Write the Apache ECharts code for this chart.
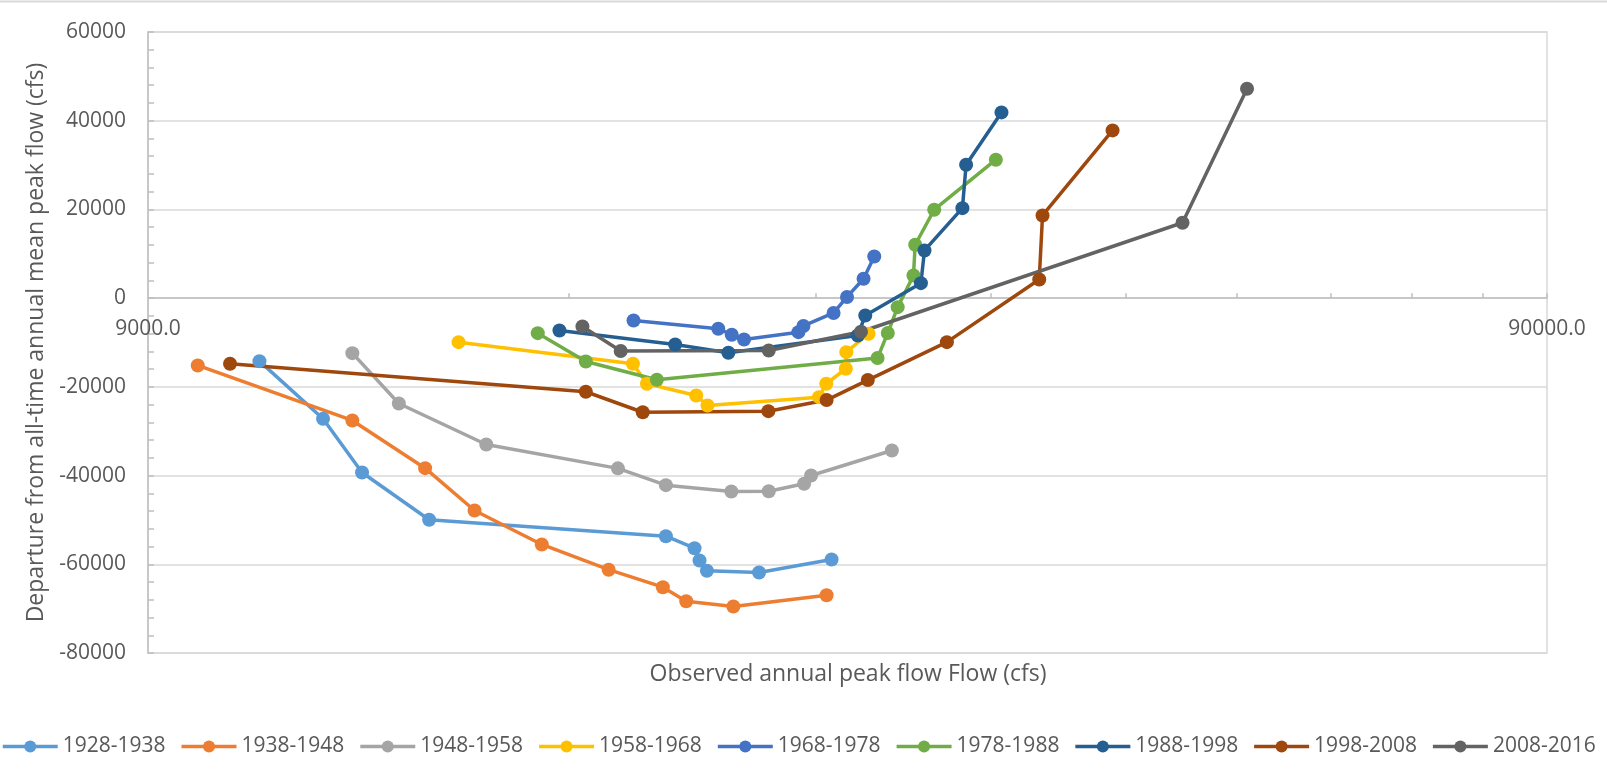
<!DOCTYPE html>
<html><head><meta charset="utf-8">
<script src="https://cdn.jsdelivr.net/npm/echarts@6/dist/echarts.min.js"></script>
<style>html,body{margin:0;padding:0;background:#fff}#c{width:1607px;height:771px}</style>
</head><body><div id="c"></div>
<script>
// ---- data (x = observed annual peak flow, y = departure from mean) ----
const seriesNames = ['1928-1938','1938-1948','1948-1958','1958-1968','1968-1978','1978-1988','1988-1998','1998-2008','2008-2016'];
const seriesColors = ['#5B9BD5','#ED7D31','#A5A5A5','#FFC000','#4472C4','#70AD47','#255E91','#9E480E','#636363'];

const d1928 = [[10812,-14205],[12005,-27193],[12801,-39301],[14295,-49966],[21107,-53664],[22126,-56370],[22308,-59143],[22581,-61466],[24605,-61849],[27725,-58918]];
const d1938 = [[9768,-15175],[12598,-27576],[14201,-38332],[15405,-47869],[17207,-55536],[19210,-61218],[21002,-65164],[21825,-68320],[23586,-69516],[27498,-66968]];
const d1948 = [[12598,-12401],[13600,-23743],[15705,-32988],[19504,-38377],[21107,-42165],[23508,-43585],[25001,-43518],[26500,-41849],[26806,-39978],[30617,-34341]];
const d1958 = [[15005,-9921],[19993,-14791],[20459,-19301],[22188,-21939],[22604,-24194],[27156,-22323],[27484,-19301],[28382,-15919],[28405,-12176],[29465,-8027]];
const d1968 = [[20013,-5028],[23008,-6900],[23523,-8253],[24005,-9312],[26252,-7666],[26469,-6268],[27816,-3337],[28438,271],[29223,4374],[29742,9403]];
const d1978 = [[17094,-7892],[18501,-14273],[20796,-18399],[29904,-13484],[30412,-7847],[30911,-2029],[31725,5118],[31814,12041],[32826,19932],[36332,31206]];
const d1988 = [[17715,-7283],[21432,-10440],[23393,-12311],[28946,-8410],[29305,-3901],[32115,3382],[32306,10756],[34386,20293],[34596,30079],[36669,41872]];
const d1998 = [[10301,-14791],[18501,-21105],[20318,-25727],[24984,-25479],[27498,-22977],[29427,-18467],[33518,-9921],[39020,4216],[39233,18647],[44026,37813]];
const d2008 = [[18398,-6381],[19594,-11905],[25001,-11793],[29099,-7576],[49399,17001],[54932,47216]];
const seriesData = [d1928,d1938,d1948,d1958,d1968,d1978,d1988,d1998,d2008];

// ---- axis ticks / labels ----
const xLabelValues = [9000, 90000];
const xTickValues = [18000, 27000, 36000, 45000, 54000, 63000, 72000, 81000, 90000];
const yMin = -80000, yMax = 60000, yStep = 20000;

const TXT = '#595959', AX = '#BFBFBF', GRID = '#D9D9D9', FONT = 'Open Sans';
const GRID_TOP = 32, GRID_BOTTOM = 118, H = 771;
const plotH = H - GRID_TOP - GRID_BOTTOM;
// x axis crosses the y axis at value 0
const zeroOffset = -plotH * (0 - yMin) / (yMax - yMin);

const chart = echarts.init(document.getElementById('c'), null, {renderer:'canvas'});
chart.setOption({
  animation: false,
  textStyle: {fontFamily: FONT},
  title: {
    text: 'Observed annual peak flow Flow (cfs)',
    left: 848, top: 663, textAlign: 'center', padding: 0,
    textStyle: {fontFamily: FONT, fontSize: 23, fontWeight: 'normal', color: TXT}
  },
  graphic: [{type:'line', shape:{x1:0,y1:1.5,x2:1607,y2:1.5}, style:{stroke:GRID,lineWidth:2}, silent:true}],
  grid: {left:148, right:60, top:GRID_TOP, bottom:GRID_BOTTOM, show:true, borderColor:GRID, borderWidth:1.5, backgroundColor:'transparent'},
  legend: {
    data: seriesNames, left: 1, top: 736, width: 1800, padding: 0,
    itemWidth: 55, itemHeight: 15, itemGap: 14.2,
    lineStyle: {width: 3.5},
    textStyle: {fontFamily: FONT, fontSize: 21, color: TXT}
  },
  xAxis: {
    type: 'log', logBase: 10, min: 9000, max: 90000,
    position: 'bottom', offset: zeroOffset,
    axisLine: {show:true, onZero:false, lineStyle:{color:AX, width:1.5}},
    axisTick: {show:true, inside:true, length:5, customValues:xTickValues, lineStyle:{color:AX, width:1.5}},
    axisLabel: {customValues:xLabelValues, formatter:(v)=>Number(v).toFixed(1), color:TXT, fontSize:21, margin:20, fontFamily:FONT},
    splitLine: {show:false}, minorTick:{show:false}, minorSplitLine:{show:false}
  },
  yAxis: {
    type: 'value', min: yMin, max: yMax, interval: yStep,
    axisLine: {show:true, onZero:false, lineStyle:{color:AX, width:1.5}},
    axisTick: {show:true, inside:true, length:6, lineStyle:{color:AX, width:1.5}},
    minorTick: {show:true, splitNumber:5, length:6, lineStyle:{color:AX, width:1.5}},
    axisLabel: {formatter:(v)=>String(v), color:TXT, fontSize:21, margin:22, fontFamily:FONT},
    splitLine: {show:true, lineStyle:{color:GRID, width:1.5}},
    name: 'Departure from all-time annual mean peak flow (cfs)',
    nameLocation: 'middle', nameGap: 99,
    nameTextStyle: {fontFamily:FONT, fontSize:23, color:TXT}
  },
  series: seriesNames.map((n,i)=>({
    name: n, type: 'line', data: seriesData[i],
    symbol: 'circle', symbolSize: 14, showSymbol: true,
    color: seriesColors[i],
    itemStyle: {color: seriesColors[i]},
    lineStyle: {color: seriesColors[i], width: 3.5},
    emphasis: {disabled: true}
  }))
});
</script></body></html>
